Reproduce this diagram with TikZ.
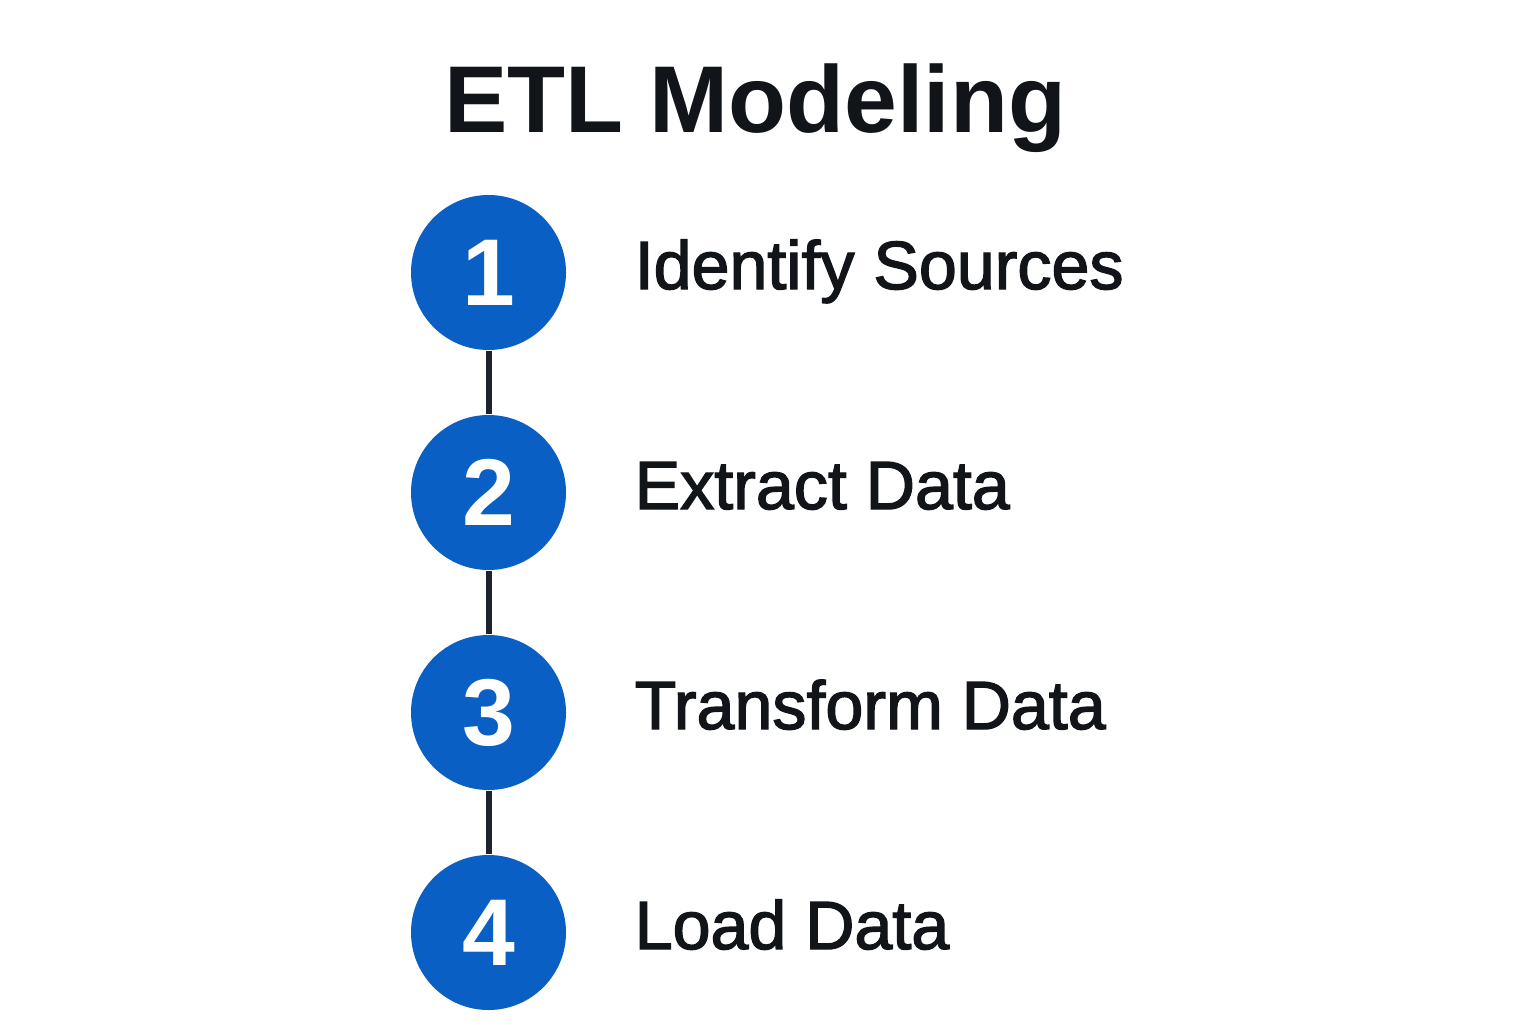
\documentclass[tikz,border=0pt]{standalone}
\usepackage{fontspec}
\setmainfont{Liberation Sans}
\newfontfamily\medfont[FakeBold=2]{Liberation Sans}
\usetikzlibrary{positioning}
\definecolor{stepblue}{HTML}{0A5FC4}
\definecolor{linkgray}{HTML}{1C2230}
\definecolor{inkblack}{HTML}{111418}
\tikzset{
    SC/.style ={circle,minimum size=1.55cm,inner sep=0pt,fill=stepblue,text=white,
        font=\fontsize{27}{32}\selectfont\bfseries},
    ST/.style ={anchor=base west,inner sep=0pt,text=inkblack,
        font=\fontsize{19.4}{24}\selectfont\medfont},
    TI/.style ={anchor=base,inner sep=0pt,text=inkblack,
        font=\fontsize{27}{34}\selectfont\bfseries},
    link/.style={line width=0.06cm,draw=linkgray}}

\begin{document}
\begin{tikzpicture}
    \fill[white] (0,0) rectangle (15.36,10.24);
    \useasboundingbox (0,0) rectangle (15.36,10.24);
    \node[TI](title) at(7.55,8.91){ETL Modeling};
    \node[SC](s1) at(4.885,7.515){1};
    \node[SC](s2) at(4.885,5.315){2}
        edge[link] (s1);
    \node[SC](s3) at(4.885,3.115){3}
        edge[link] (s2);
    \node[SC](s4) at(4.885,0.915){4}
        edge[link] (s3);
    \node[ST](l1) at(6.34,7.35){Identify Sources};
    \node[ST](l2) at(6.34,5.15){Extract Data};
    \node[ST](l3) at(6.34,2.95){Transform Data};
    \node[ST](l4) at(6.34,0.75){Load Data};
\end{tikzpicture}
\end{document}
